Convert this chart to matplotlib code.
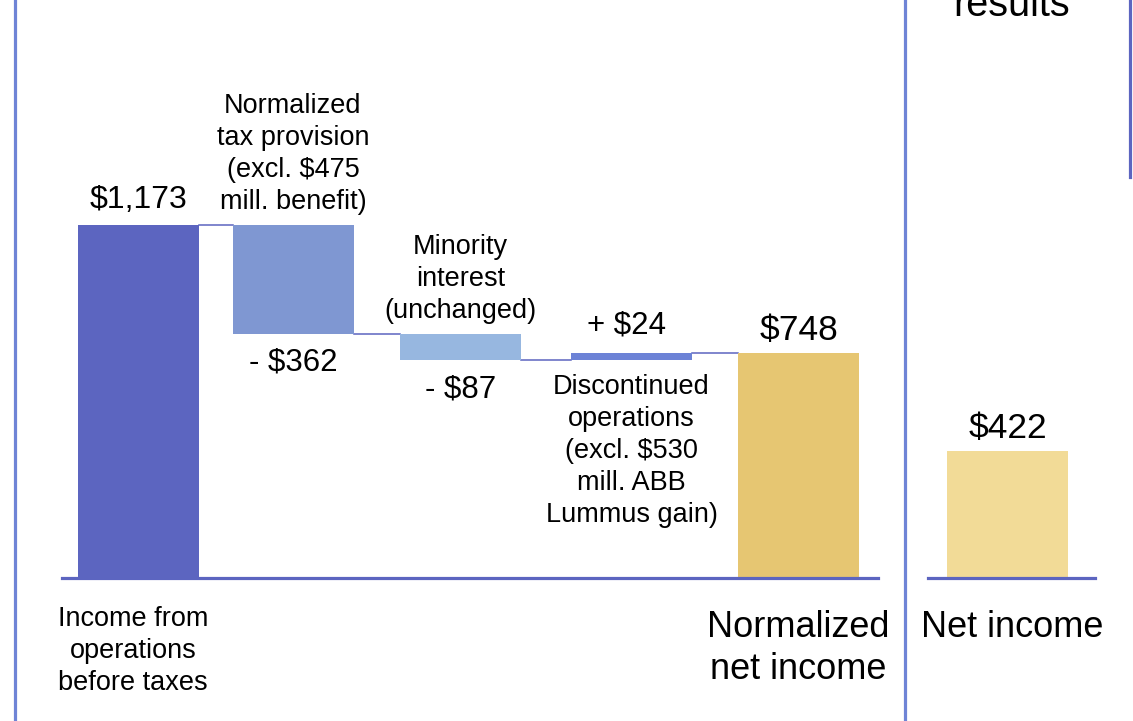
import matplotlib.pyplot as plt

plt.rcParams['font.family'] = ['Liberation Sans', 'DejaVu Sans']

# waterfall steps, $ millions
start_label = "Income from\noperations\nbefore taxes"
start_value = 1173
step_labels = ["Normalized\ntax provision\n(excl. $475\nmill. benefit)",
               "Minority\ninterest\n(unchanged)",
               "Discontinued\noperations\n(excl. $530\nmill. ABB\nLummus gain)"]
step_values = [-362, -87, 24]
step_texts = ["- $362", "- $87", "+ $24"]
end_label = "Normalized\nnet income"
end_value = 748
reported_label = "Net income"
reported_value = 422

c_start = "#5C65C0"
c_steps = ["#7F97D2", "#97B7E0", "#6C82D6"]
c_end = "#E6C672"
c_reported = "#F2DB97"
c_axis = "#5C65C0"
c_frame = "#6F84D6"

W, H = 1133, 721
base_px = 578          # pixel row of the zero line
scale = 353 / 1173     # pixels per $ million

fig = plt.figure(figsize=(W / 100, H / 100), dpi=100)
ax = fig.add_axes([0, 0, 1, 1])
ax.set_xlim(0, W)
ax.set_ylim(-(H - base_px) / scale, base_px / scale)
ax.axis('off')


def row(p):
    # pixel row -> data y
    return (base_px - p) / scale


xs = [138, 293, 460.5, 631.5, 798.5, 1007.5]
bw = 121

# running totals for the floating bars
bottoms, heights = [], []
level = start_value
levels = [start_value]
for v in step_values:
    new = level + v
    bottoms.append(min(level, new))
    heights.append(abs(v))
    level = new
    levels.append(level)

ax.bar(xs[0], start_value, width=bw, color=c_start, zorder=2)
ax.bar(xs[1:4], heights, bottom=bottoms, width=bw, color=c_steps, zorder=2)
ax.bar(xs[4], end_value, width=bw, color=c_end, zorder=2)
ax.bar(xs[5], reported_value, width=bw, color=c_reported, zorder=2)

# connectors between consecutive bars
for i in range(4):
    ax.plot([xs[i] + bw / 2, xs[i + 1] - bw / 2], [levels[i], levels[i]],
            color=c_axis, lw=1.1, zorder=1)

# base lines
ax.plot([62, 878], [0, 0], color=c_axis, lw=2.3, zorder=3)
ax.plot([928, 1095], [0, 0], color=c_axis, lw=2.3, zorder=3)

# frame lines
ax.plot([15, 15], [row(0), row(H)], color=c_frame, lw=2.3)
ax.plot([905, 905], [row(0), row(H)], color=c_frame, lw=2.3)
ax.plot([1130, 1130], [row(0), row(177)], color=c_axis, lw=2.3)
ax.text(1012, row(16), "results", ha='center', va='baseline', fontsize=28.5)

fs_small = 19.5
fs_val = 22.5
ls = 1.3

# value labels
ax.annotate("$1,173", (xs[0], start_value), xytext=(0, 7), textcoords='offset points',
            ha='center', va='bottom', fontsize=23)
ax.annotate("$748", (xs[4], end_value), xytext=(0, 4), textcoords='offset points',
            ha='center', va='bottom', fontsize=25.5)
ax.annotate("$422", (xs[5], reported_value), xytext=(0, 4), textcoords='offset points',
            ha='center', va='bottom', fontsize=25.5)

# step labels: description above / amount below, or the other way for the gain
for i in range(3):
    top = bottoms[i] + heights[i]
    bot = bottoms[i]
    x = xs[i + 1]
    if step_values[i] < 0:
        ax.annotate(step_labels[i], (x, top), xytext=(0, 7), textcoords='offset points',
                    ha='center', va='bottom', fontsize=fs_small, linespacing=ls)
        ax.annotate(step_texts[i], (x, bot), xytext=(0, -10), textcoords='offset points',
                    ha='center', va='top', fontsize=fs_val)
    else:
        ax.annotate(step_texts[i], (x - 5, top), xytext=(0, 9), textcoords='offset points',
                    ha='center', va='bottom', fontsize=fs_val)
        ax.annotate(step_labels[i], (x, bot), xytext=(0, -10), textcoords='offset points',
                    ha='center', va='top', fontsize=fs_small, linespacing=ls)

# category labels under the base line
ax.text(xs[0] - 5, row(606), start_label, ha='center', va='top', fontsize=fs_small,
        linespacing=ls)
ax.text(xs[4], row(610), end_label, ha='center', va='top', fontsize=26, linespacing=1.25)
ax.text(1012, row(610), reported_label, ha='center', va='top', fontsize=26)

fig.savefig("out.png", dpi=100)
